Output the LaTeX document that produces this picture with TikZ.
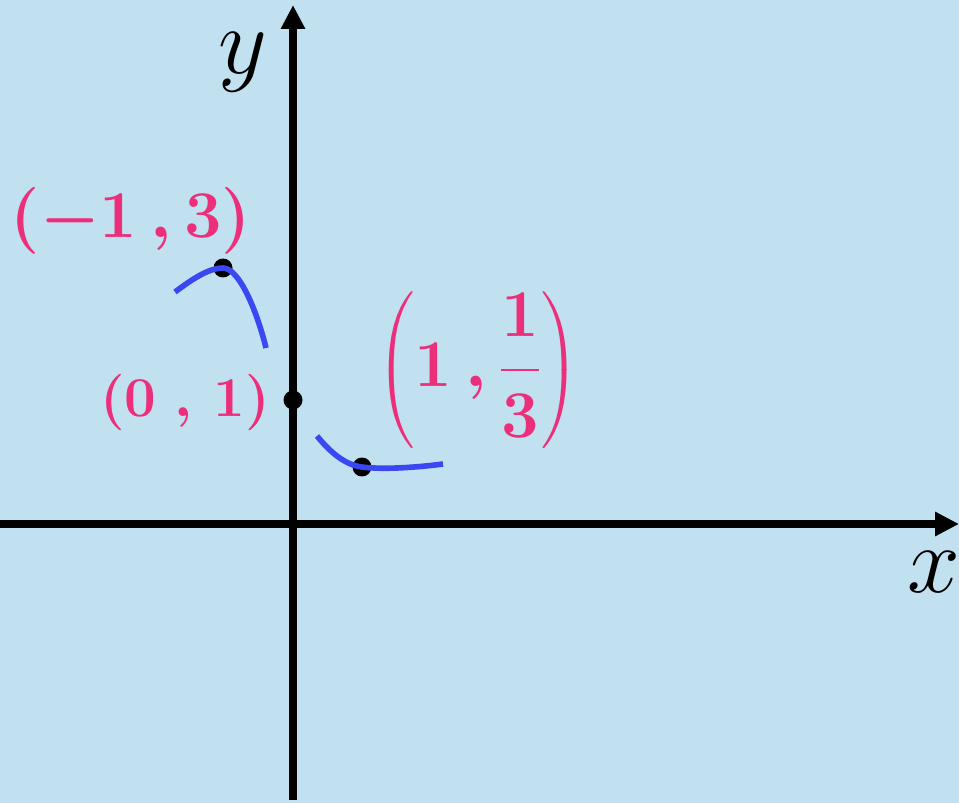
\RequirePackage{fix-cm}
\documentclass[tikz,border=0pt]{standalone}
\usepackage{amsmath}
\usepackage{xcolor}
\usepackage{tikz}
\usetikzlibrary{arrows.meta}

\definecolor{bgblue}{HTML}{C1E0F0}
\definecolor{curveblue}{HTML}{3A48F2}
\definecolor{labelpink}{HTML}{EC2F7B}

\begin{document}
\begin{tikzpicture}[
    x=0.02cm,
    y=-0.02cm,
    axis/.style={
        line width=4.5pt,
        -{Triangle[length=0.48cm,width=0.46cm]}
    },
    curve/.style={
        line width=3.2pt,
        curveblue
    },
    dot/.style={
        circle,
        fill=black,
        inner sep=0pt,
        minimum size=0.38cm
    },
    pointlabel/.style={
        text=labelpink,
        inner sep=0pt,
        font=\fontsize{38}{40}\selectfont\boldmath
    },
    axislabel/.style={
        inner sep=0pt,
        font=\fontsize{54}{58}\selectfont
    }
]

% Background
\fill[bgblue] (0,0) rectangle (959,803);
\useasboundingbox (0,0) rectangle (959,803);

% Axes
\coordinate (xstart) at (0,524);
\coordinate (xend) at (959,524);
\coordinate (ystart) at (293,800);
\coordinate (yend) at (293,5);

\draw[axis] (xstart) -- (xend);
\draw[axis] (ystart) -- (yend);

\node[axislabel] (xlabel) at (934,572) {$x$};
\node[axislabel] (ylabel) at (243,62) {$y$};

% Curve pieces
\coordinate (lstart) at (175,292);
\coordinate (lend) at (266,348);
\coordinate (rstart) at (317,436);
\coordinate (rend) at (443,464);

\node[dot] (peak) at (223,268) {};
\node[dot] (yint) at (293,400) {};
\node[dot] (valley) at (362,467) {};

\draw[curve] (lstart) .. controls (195,277) and (210,268) .. (peak.center)
    .. controls (240,268) and (258,315) .. (lend);

\draw[curve] (rstart) .. controls (330,452) and (345,465) .. (valley.center)
    .. controls (385,470) and (420,467) .. (rend);

% Labels
\node[pointlabel] (peaklabel) at (131,221) {$(-1\,,3)$};

\node[pointlabel, font=\fontsize{32}{34}\selectfont\boldmath] (yintlabel)
    at (185,402) {$(0\;,\,1)$};

\node[pointlabel] (valleylabel) at (478,370)
    {$\left(1\,,\dfrac{1}{3}\right)$};

\end{tikzpicture}
\end{document}
